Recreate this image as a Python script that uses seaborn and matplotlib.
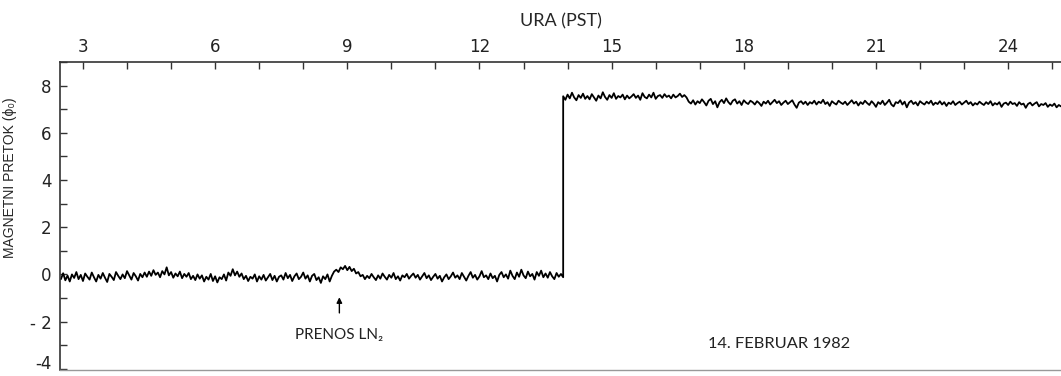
import numpy as np
import pandas as pd
import seaborn as sns
import matplotlib.pyplot as plt
from matplotlib.ticker import MultipleLocator

# ---- data ----
# flux before the event, every 0.05 h from 2.5 to 13.9
flux_before = [
    -0.2, 0.05, -0.25, -0.05, -0.3, 0.0, -0.15, 0.1, -0.2, -0.02, -0.28, 0.04, -0.1, -0.22, 0.08, -0.12, -0.3, -0.02, -0.18, 0.06,
    -0.14, -0.32, 0.02, -0.1, -0.24, 0.1, -0.06, -0.2, 0.0, -0.16, 0.14, -0.04, -0.22, 0.06, -0.08, -0.26, 0.02, -0.12, 0.08, -0.1,
    0.12, -0.06, 0.18, -0.02, 0.08, -0.12, 0.14, 0.0, 0.3, -0.04, 0.1, -0.14, 0.04, -0.08, 0.12, -0.16, 0.02, -0.1, 0.06, -0.2,
    -0.06, -0.24, 0.0, -0.18, -0.04, -0.3, -0.1, -0.22, 0.02, -0.28, -0.08, -0.34, -0.12, -0.2, 0.0, -0.26, 0.08, -0.06, 0.22, -0.04,
    0.12, -0.1, 0.04, -0.2, -0.06, -0.28, -0.1, -0.18, 0.0, -0.3, -0.08, -0.22, -0.02, -0.26, -0.12, 0.02, -0.24, -0.06, -0.3, -0.1,
    -0.04, -0.22, 0.06, -0.16, -0.02, -0.28, -0.08, 0.04, -0.2, -0.1, 0.08, -0.18, -0.04, -0.3, -0.06, 0.02, -0.24, -0.12, -0.36, -0.08,
    -0.2, 0.0, -0.3, -0.06, 0.12, 0.2, 0.1, 0.3, 0.22, 0.36, 0.18, 0.32, 0.14, 0.24, 0.04, 0.1, -0.08, -0.02, -0.2, -0.06,
    -0.16, 0.02, -0.12, -0.24, -0.04, -0.18, 0.04, -0.1, -0.22, -0.02, -0.14, 0.06, -0.2, -0.08, -0.26, -0.04, -0.12, 0.02, -0.18, -0.06,
    0.04, -0.14, -0.02, -0.22, -0.08, 0.06, -0.16, -0.04, -0.24, -0.1, 0.02, -0.18, -0.06, -0.3, -0.12, 0.0, -0.2, -0.08, 0.08, -0.14,
    -0.04, -0.2, 0.06, -0.1, -0.26, -0.06, 0.1, -0.14, -0.02, -0.22, -0.08, 0.14, -0.12, -0.04, -0.2, 0.04, -0.16, -0.06, -0.3, -0.02,
    0.1, -0.12, 0.0, -0.18, 0.16, -0.06, -0.2, 0.08, -0.1, 0.2, -0.04, -0.16, 0.12, -0.08, 0.02, -0.22, 0.1, -0.06, 0.16, -0.12,
    0.04, -0.14, 0.1, -0.08, -0.2, 0.06, -0.1, 0.02, -0.12,
]
# flux after the jump, every 0.05 h from 13.9 to 25.2
flux_after = [
    7.55, 7.4, 7.62, 7.46, 7.7, 7.5, 7.38, 7.6, 7.48, 7.66, 7.44, 7.56,
    7.42, 7.64, 7.5, 7.36, 7.58, 7.46, 7.72, 7.52, 7.4, 7.6, 7.48, 7.68, 7.44, 7.56, 7.5, 7.62, 7.42, 7.58, 7.46, 7.54,
    7.64, 7.48, 7.58, 7.4, 7.68, 7.52, 7.46, 7.62, 7.5, 7.7, 7.44, 7.56, 7.6, 7.48, 7.64, 7.52, 7.58, 7.46, 7.62, 7.5,
    7.56, 7.66, 7.52, 7.6, 7.5, 7.32, 7.24, 7.38, 7.2, 7.34, 7.26, 7.42, 7.3, 7.16, 7.36, 7.44, 7.22, 7.34, 7.08, 7.3,
    7.4, 7.26, 7.46, 7.3, 7.2, 7.36, 7.42, 7.24, 7.34, 7.18, 7.38, 7.28, 7.22, 7.36, 7.3, 7.2, 7.34, 7.26, 7.14, 7.32,
    7.24, 7.36, 7.2, 7.3, 7.4, 7.26, 7.34, 7.18, 7.28, 7.36, 7.22, 7.3, 7.38, 7.2, 7.06, 7.28, 7.34, 7.22, 7.32, 7.18,
    7.3, 7.24, 7.36, 7.2, 7.32, 7.26, 7.4, 7.22, 7.3, 7.14, 7.34, 7.26, 7.2, 7.36, 7.28, 7.22, 7.32, 7.18, 7.28, 7.38,
    7.24, 7.32, 7.16, 7.3, 7.22, 7.36, 7.26, 7.18, 7.34, 7.24, 7.1, 7.3, 7.22, 7.36, 7.18, 7.28, 7.4, 7.2, 7.12, 7.3,
    7.26, 7.38, 7.2, 7.32, 7.08, 7.28, 7.36, 7.22, 7.3, 7.16, 7.34, 7.26, 7.2, 7.32, 7.24, 7.36, 7.18, 7.28, 7.22, 7.34,
    7.2, 7.3, 7.14, 7.28, 7.22, 7.34, 7.18, 7.26, 7.32, 7.2, 7.28, 7.36, 7.22, 7.3, 7.16, 7.26, 7.2, 7.32, 7.24, 7.18,
    7.3, 7.22, 7.34, 7.16, 7.26, 7.2, 7.3, 7.1, 7.24, 7.28, 7.18, 7.32, 7.22, 7.26, 7.14, 7.3, 7.2, 7.24, 7.06, 7.22,
    7.28, 7.16, 7.24, 7.3, 7.12, 7.22, 7.18, 7.26, 7.1, 7.2, 7.14, 7.24, 7.08, 7.18, 7.12,
]
hours_before = np.linspace(2.5, 13.9, len(flux_before))
hours_after = np.linspace(13.9, 25.2, len(flux_after))

x_ticks = [3, 6, 9, 12, 15, 18, 21, 24]
y_ticks = [-4, -2, 0, 2, 4, 6, 8]
y_tick_labels = ['-4', '- 2', '0', '2', '4', '6', '8']

df = pd.DataFrame({
    'ura': np.concatenate([hours_before, hours_after]),
    'pretok': flux_before + flux_after,
})

sns.set_style('white')
fig = plt.figure(figsize=(10.61, 3.76), dpi=100)
# axes box: left spine at x=60 px, top spine at y=62 px, bottom at y=370 px
ax = fig.add_axes([0.0566, 0.016, 0.9434, 0.819])

sns.lineplot(x='ura', y='pretok', data=df, ax=ax, sort=False, estimator=None,
             color='black', linewidth=1.3)

ax.set_xlim(2.48, 25.2)
ax.set_ylim(-4.05, 9.0)

# x axis on top
ax.xaxis.tick_top()
ax.xaxis.set_label_position('top')
ax.set_xticks(x_ticks)
ax.xaxis.set_minor_locator(MultipleLocator(1))
ax.set_yticks(y_ticks)
ax.set_yticklabels(y_tick_labels)
ax.yaxis.set_minor_locator(MultipleLocator(1))
ax.tick_params(axis='both', which='both', direction='in', length=5, width=1,
               color='#333333', labelsize=12, labelcolor='#222222')
ax.tick_params(axis='x', which='both', top=True, bottom=False, pad=4)
ax.tick_params(axis='y', which='both', left=True, right=False, pad=6)
# keep the lowest label inside the picture
ax.get_yticklabels()[0].set_va('baseline')

for side in ['top', 'left']:
    ax.spines[side].set_color('#333333')
    ax.spines[side].set_linewidth(1.2)
ax.spines['bottom'].set_color('#999999')
ax.spines['bottom'].set_linewidth(1)
ax.spines['right'].set_visible(False)

ax.set_xlabel('URA (PST)', family=['Lato', 'DejaVu Sans'], fontsize=13,
              labelpad=9)
ax.set_ylabel('MAGNETNI PRETOK (ϕ₀)', family=['Liberation Sans', 'DejaVu Sans'],
              fontsize=10)
ax.yaxis.set_label_coords(-0.043, 0.623)

# LN2 transfer arrow and notes
ax.annotate('', xy=(8.82, -0.85), xytext=(8.82, -1.75),
            arrowprops=dict(arrowstyle='-|>', color='black', lw=1,
                            mutation_scale=8))
ax.text(8.82, -2.55, 'PRENOS LN₂', ha='center', va='center', fontsize=11,
        family=['Lato', 'DejaVu Sans'], color='#222222')
ax.text(18.8, -2.95, '14. FEBRUAR 1982', ha='center', va='center',
        fontsize=11.8, family=['Lato', 'DejaVu Sans'], color='#222222')

fig.savefig('out.png', dpi=100)
